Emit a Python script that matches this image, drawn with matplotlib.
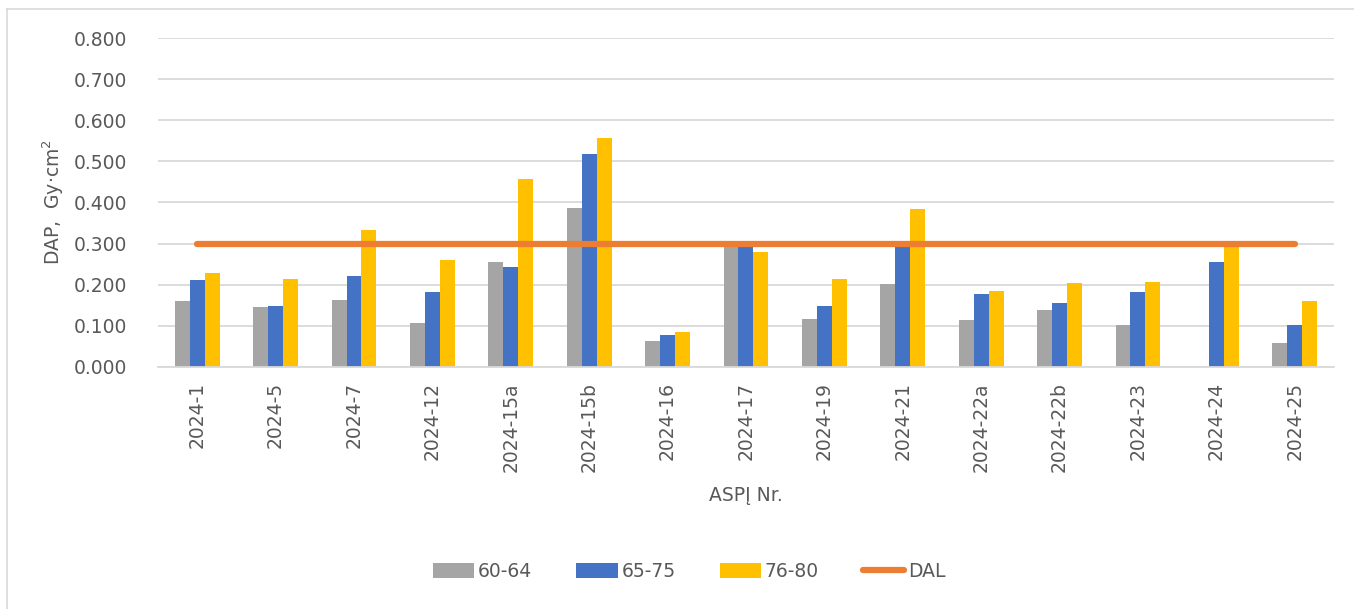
import matplotlib.pyplot as plt
import matplotlib.lines as mlines
import numpy as np

categories = ["2024-1", "2024-5", "2024-7", "2024-12", "2024-15a", "2024-15b", "2024-16",
              "2024-17", "2024-19", "2024-21", "2024-22a", "2024-22b", "2024-23", "2024-24", "2024-25"]
age_60_64 = [0.160, 0.147, 0.162, 0.106, 0.256, 0.386, 0.062, 0.302, 0.116, 0.201, 0.114, 0.139, 0.103, 0.0, 0.059]
age_65_75 = [0.212, 0.149, 0.221, 0.182, 0.242, 0.517, 0.077, 0.298, 0.148, 0.295, 0.177, 0.156, 0.182, 0.255, 0.101]
age_76_80 = [0.229, 0.214, 0.334, 0.261, 0.458, 0.558, 0.084, 0.280, 0.214, 0.385, 0.185, 0.204, 0.207, 0.298, 0.161]
dal = 0.300

text_color = "#595959"
plt.rcParams['font.family'] = ['DejaVu Sans']

fig = plt.figure(figsize=(13.54, 6.09), dpi=100)
ax = fig.add_axes([0.1167, 0.3974, 0.8685, 0.5402])

# chart border (left and top edges visible)
fig.add_artist(mlines.Line2D([7 / 1354, 7 / 1354], [0, 1 - 9 / 609], color="#d9d9d9", lw=1.2))
fig.add_artist(mlines.Line2D([7 / 1354, 1], [1 - 9 / 609, 1 - 9 / 609], color="#d9d9d9", lw=1.2))

x = np.arange(len(categories))
w = 0.191
b1 = ax.bar(x - w, age_60_64, w, color="#a5a5a5", zorder=2)
b2 = ax.bar(x, age_65_75, w, color="#4472c4", zorder=2)
b3 = ax.bar(x + w, age_76_80, w, color="#ffc000", zorder=2)
ln, = ax.plot([x[0], x[-1]], [dal, dal], color="#ed7d31", lw=4.5, solid_capstyle="round", zorder=3)

ax.set_xlim(-0.5, len(categories) - 0.5)
ax.set_ylim(0, 0.8)
ax.set_yticks(np.arange(0, 0.81, 0.1))
ax.set_yticklabels([f"{v:.3f}" for v in np.arange(0, 0.81, 0.1)])
ax.set_xticks(x)
ax.set_xticklabels(categories, rotation=90)
ax.yaxis.grid(True, color="#d9d9d9", lw=1.3, zorder=0)
ax.tick_params(axis="both", length=0, labelsize=13.5, colors=text_color)
ax.tick_params(axis="x", pad=11)
ax.tick_params(axis="y", pad=22)
for s in ["top", "right", "left"]:
    ax.spines[s].set_visible(False)
ax.spines["bottom"].set_color("#d9d9d9")
ax.spines["bottom"].set_linewidth(1.3)

ax.set_xlabel("ASPĮ Nr.", fontsize=13.5, color=text_color, labelpad=10)
ax.set_ylabel("DAP,  Gy·cm$^2$", fontsize=13.5, color=text_color, labelpad=6)

fig.legend([b1, b2, b3, ln], ["60-64", "65-75", "76-80", "DAL"], loc="center",
           bbox_to_anchor=(0.509, 0.061), ncol=4, frameon=False,
           fontsize=13.5, labelcolor=text_color, handlelength=2.2, handleheight=0.85,
           columnspacing=2.35, handletextpad=0.2)

fig.savefig("out.png", dpi=100)
